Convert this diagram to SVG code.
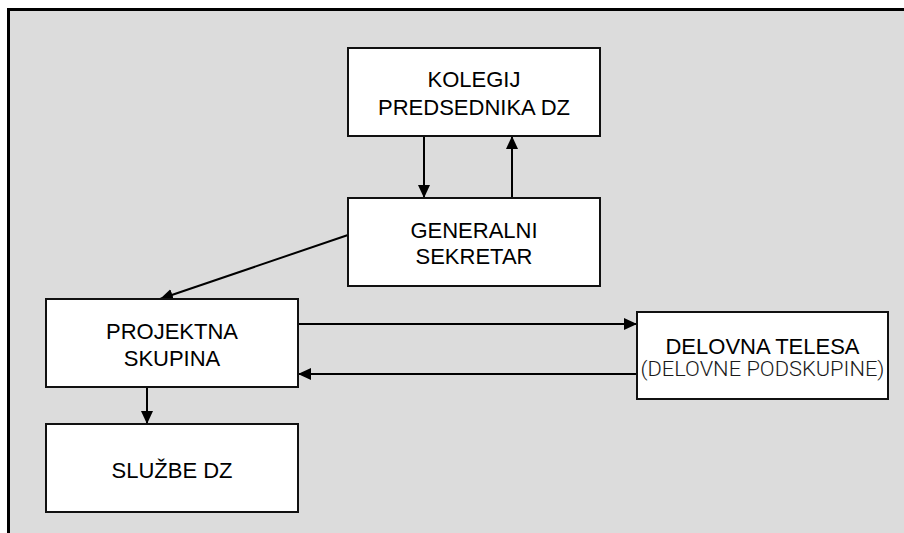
<svg xmlns="http://www.w3.org/2000/svg" width="904" height="533" viewBox="0 0 904 533">
<defs>
<marker id="ah" markerWidth="13" markerHeight="13" viewBox="0 0 13 13" refX="13" refY="6.5" orient="auto" markerUnits="userSpaceOnUse">
<path d="M0,0.5 L13,6.5 L0,12.5 Z" fill="#000"/>
</marker>
<style>
.box{fill:#fff;stroke:#111;stroke-width:2}
.t{font-family:"Liberation Sans",Arial,sans-serif;font-size:22px;fill:#000;text-anchor:middle}
.s{font-family:Roboto,"Liberation Sans",Arial,sans-serif;font-weight:300;font-size:21px;fill:#1a1a1a;text-anchor:middle}
.c{stroke:#000;stroke-width:2;fill:none;marker-end:url(#ah)}
</style>
</defs>
<rect x="0" y="0" width="904" height="533" fill="#fff"/>
<rect x="9" y="10" width="895" height="523" fill="#dcdcdc"/>
<path d="M8.5,533 V9.5 H904" fill="none" stroke="#000" stroke-width="3"/>
<g id="connectors">
<line class="c" x1="424" y1="136" x2="424" y2="198"/>
<line class="c" x1="512" y1="198" x2="512" y2="136"/>
<line class="c" x1="348" y1="235" x2="160" y2="299"/>
<line class="c" x1="298" y1="324" x2="637" y2="324"/>
<line class="c" x1="637" y1="374" x2="298" y2="374"/>
<line class="c" x1="147" y1="387" x2="147" y2="424"/>
</g>
<g id="kolegij">
<rect class="box" x="348" y="48" width="252" height="88"/>
<text class="t" x="474" y="87">KOLEGIJ</text>
<text class="t" x="474" y="115">PREDSEDNIKA DZ</text>
</g>
<g id="generalni">
<rect class="box" x="348" y="198" width="252" height="88"/>
<text class="t" x="474" y="238">GENERALNI</text>
<text class="t" x="474" y="264">SEKRETAR</text>
</g>
<g id="projektna">
<rect class="box" x="46" y="299" width="252" height="88"/>
<text class="t" x="172" y="339">PROJEKTNA</text>
<text class="t" x="172" y="366">SKUPINA</text>
</g>
<g id="sluzbe">
<rect class="box" x="46" y="424" width="252" height="88"/>
<text class="t" x="172" y="478">SLUŽBE DZ</text>
</g>
<g id="delovna">
<rect class="box" x="637" y="312" width="251" height="87"/>
<text class="t" x="762.5" y="354">DELOVNA TELESA</text>
<text class="s" x="762.5" y="376" textLength="244" lengthAdjust="spacingAndGlyphs">(DELOVNE PODSKUPINE)</text>
</g>
</svg>
